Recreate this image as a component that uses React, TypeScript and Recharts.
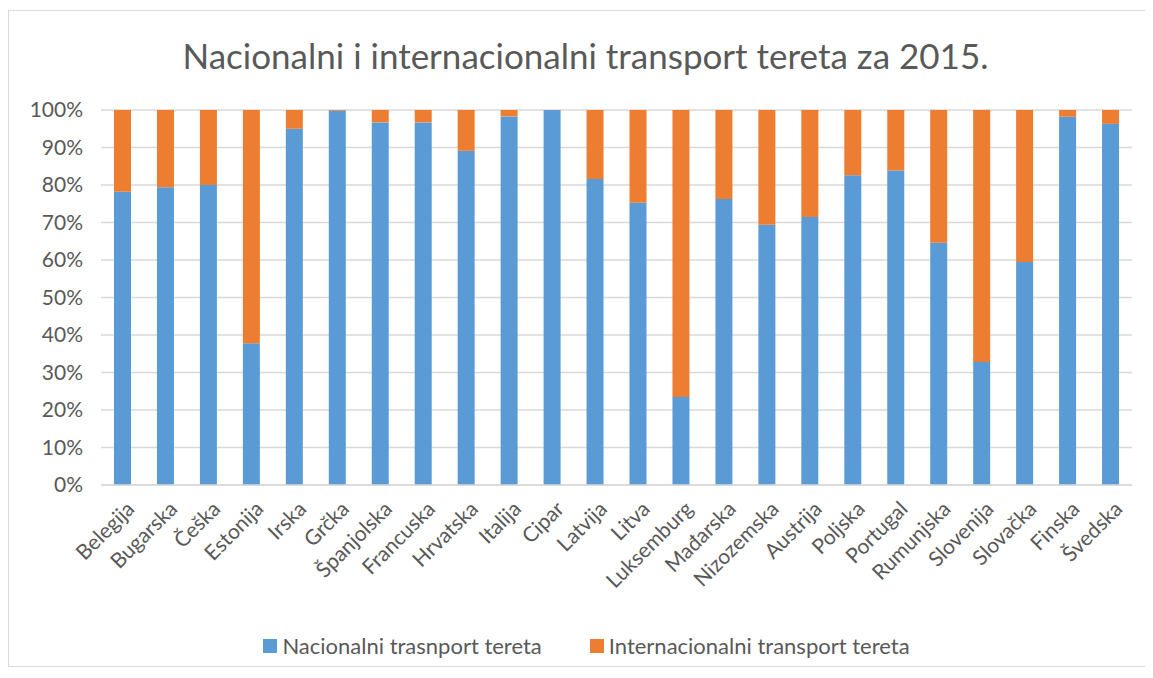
import React from 'react';
import { BarChart, Bar, XAxis, YAxis, CartesianGrid, Legend } from 'recharts';

const countries = [
  'Belegija', 'Bugarska', 'Češka', 'Estonija', 'Irska', 'Grčka', 'Španjolska', 'Francuska',
  'Hrvatska', 'Italija', 'Cipar', 'Latvija', 'Litva', 'Luksemburg', 'Mađarska', 'Nizozemska',
  'Austrija', 'Poljska', 'Portugal', 'Rumunjska', 'Slovenija', 'Slovačka', 'Finska', 'Švedska',
];

const nacionalni = [
  78.2, 79.4, 80.0, 37.8, 95.0, 99.8, 96.7, 96.7, 89.1, 98.3, 100, 81.6,
  75.3, 23.5, 76.3, 69.4, 71.5, 82.6, 83.9, 64.6, 32.8, 59.5, 98.2, 96.3,
];

const yTicks = [0, 10, 20, 30, 40, 50, 60, 70, 80, 90, 100];

const seriesNames = ['Nacionalni trasnport tereta', 'Internacionalni transport tereta'];
const seriesColors = ['#5b9bd5', '#ed7d31'];

const data = countries.map((name, i) => ({
  name,
  nac: nacionalni[i],
  int: Math.round((100 - nacionalni[i]) * 10) / 10,
}));

const FONT = 'Lato, "Open Sans", sans-serif';
const GREY = '#595959';

const XTick = (props: any) => {
  const { x, y, payload } = props;
  return (
    <g transform={`translate(${x + 9},${y + 13})`}>
      <text transform="rotate(-45)" textAnchor="end" fontSize={21} fill={GREY} fontFamily={FONT} dy={6}>
        {payload.value}
      </text>
    </g>
  );
};

const LegendBox = () => (
  <div style={{ display: 'flex', justifyContent: 'center', fontFamily: FONT, fontSize: 22, color: GREY }}>
    {seriesNames.map((n, i) => (
      <div key={n} style={{ display: 'flex', alignItems: 'center', margin: '0 24px' }}>
        <span style={{ width: 14, height: 14, background: seriesColors[i], marginRight: 5, display: 'inline-block' }} />
        {n}
      </div>
    ))}
  </div>
);

const App: React.FC = () => {
  return (
    <div style={{ position: 'relative', width: 1137, height: 655, marginTop: 2, border: '1px solid #d9d9d9', background: '#fff' }}>
      <div
        style={{
          position: 'absolute', top: 23, left: 8, width: '100%', textAlign: 'center',
          fontFamily: FONT, fontSize: 35, color: GREY,
        }}
      >
        Nacionalni i internacionalni transport tereta za 2015.
      </div>
      <BarChart
        width={1137}
        height={655}
        data={data}
        margin={{ top: 99, right: 14, bottom: 54, left: 32 }}
        barSize={17}
      >
        <CartesianGrid vertical={false} stroke="#d9d9d9" strokeWidth={1.5} />
        <XAxis
          dataKey="name"
          interval={0}
          tick={<XTick />}
          tickLine={false}
          axisLine={{ stroke: '#d9d9d9', strokeWidth: 1.5 }}
          height={100}
        />
        <YAxis
          domain={[0, 100]}
          ticks={yTicks}
          tickFormatter={(v: number) => `${v}%`}
          tick={{ fontSize: 21, fill: GREY, fontFamily: FONT, dx: -10 }}
          axisLine={false}
          tickLine={false}
          width={60}
        />
        <Legend verticalAlign="bottom" content={<LegendBox />} wrapperStyle={{ bottom: 7 }} />
        <Bar dataKey="nac" name={seriesNames[0]} stackId="a" fill={seriesColors[0]} isAnimationActive={false} />
        <Bar dataKey="int" name={seriesNames[1]} stackId="a" fill={seriesColors[1]} isAnimationActive={false} />
      </BarChart>
    </div>
  );
};

export default App;
